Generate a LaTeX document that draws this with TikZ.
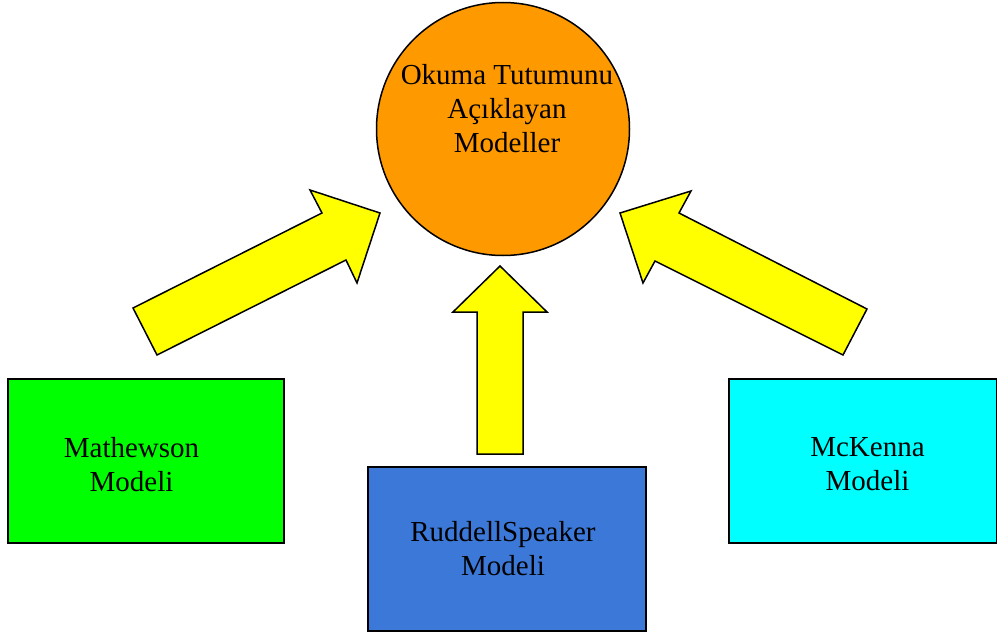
\documentclass[tikz,border=0pt]{standalone}
\usepackage{fontspec}
\setmainfont{Liberation Serif}
\definecolor{corange}{HTML}{FF9900}
\definecolor{cgreen}{HTML}{00FF00}
\definecolor{cblue}{HTML}{3C78D8}
\definecolor{ccyan}{HTML}{00FFFF}
\definecolor{cyellow}{HTML}{FFFF00}
\begin{document}
\begin{tikzpicture}[x=1pt,y=-1pt,
  lbl/.style={align=center,inner sep=0pt,font=\fontsize{29}{34}\selectfont},
  box/.style={draw=black,line width=1.5pt,rectangle,inner sep=0pt},
  blockarrow/.style={draw=black,fill=cyellow,line width=1.5pt,line join=miter}]
\useasboundingbox (0,0) rectangle (997,637);
% central circle
\node[draw=black,fill=corange,line width=1.5pt,circle,minimum size=253pt,inner sep=0pt] (c) at (503,129) {};
\node[lbl] (ct) at (507,108.5) {Okuma Tutumunu\\Açıklayan\\Modeller};
% boxes
\node[box,fill=cgreen,minimum width=276pt,minimum height=164pt] (b1) at (146,461) {};
\node[lbl] (t1) at (131.5,464.5) {Mathewson\\Modeli};
\node[box,fill=cblue,minimum width=278pt,minimum height=164pt] (b2) at (507,549) {};
\node[lbl] (t2) at (503,548.5) {RuddellSpeaker\\Modeli};
\node[box,fill=ccyan,minimum width=268pt,minimum height=164pt] (b3) at (863,461) {};
\node[lbl] (t3) at (867.5,464.5) {McKenna\\Modeli};
% block arrows
\draw[blockarrow] (133,308) -- (322,213) -- (310,190) -- (380,213) -- (357,283) -- (346,260) -- (157,355) -- cycle;
\draw[blockarrow] (500,266) -- (547,312) -- (523,312) -- (523,454) -- (477,454) -- (477,312) -- (453,312) -- cycle;
\draw[blockarrow] (620,213) -- (691,191) -- (679,213) -- (867,309) -- (843,355) -- (655,261) -- (643,283) -- cycle;
\end{tikzpicture}
\end{document}
